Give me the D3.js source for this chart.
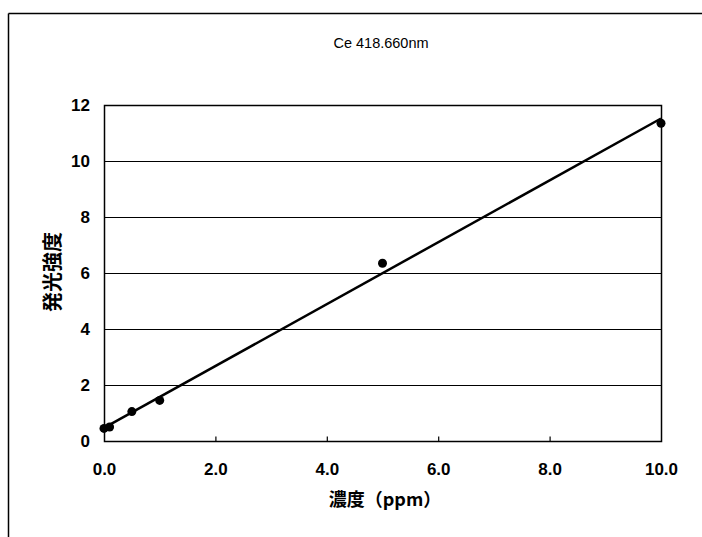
<!DOCTYPE html>
<html><head><meta charset="utf-8">
<script src="https://cdn.jsdelivr.net/npm/d3@7"></script>
<style>
body{margin:0;background:#fff;}
text{font-family:"Liberation Sans",Arial,sans-serif;fill:#000;}
</style></head>
<body>
<svg id="c" width="702" height="537"></svg>
<script>
const title = "Ce 418.660nm";
const xLabel = "濃度（ppm）";
const yLabel = "発光強度";
const concentrations = [0, 0.1, 0.5, 1.0, 5.0, 10.0];
const intensities = [0.45, 0.5, 1.05, 1.45, 6.35, 11.35];
const xTicks = [0, 2, 4, 6, 8, 10];
const yTicks = [0, 2, 4, 6, 8, 10, 12];

const svg = d3.select("#c");
const L = 104, R = 661, T = 105, B = 441;
const x = d3.scaleLinear().domain([0, 10]).range([L, R]);
const y = d3.scaleLinear().domain([0, 12]).range([B, T]);

// outer frame (top and left visible)
svg.append("line").attr("x1", 8.5).attr("x2", 702).attr("y1", 13.5).attr("y2", 13.5).attr("stroke", "#000").attr("stroke-width", 1.5);
svg.append("line").attr("x1", 8.5).attr("x2", 8.5).attr("y1", 13.5).attr("y2", 537).attr("stroke", "#000").attr("stroke-width", 1.5);

// title
svg.append("text").attr("x", 381).attr("y", 48).attr("text-anchor", "middle").attr("font-size", 14.5).text(title);

// gridlines
svg.append("g").selectAll("line").data(yTicks.filter(d => d > 0 && d < 12)).join("line")
  .attr("x1", L).attr("x2", R).attr("y1", d => Math.round(y(d)) + 0.5).attr("y2", d => Math.round(y(d)) + 0.5)
  .attr("stroke", "#000").attr("stroke-width", 1);

// plot frame
svg.append("rect").attr("x", L + 0.5).attr("y", T + 0.5).attr("width", R - L).attr("height", B - T)
  .attr("fill", "none").attr("stroke", "#000").attr("stroke-width", 1.5);

// x axis
const xAxis = d3.axisBottom(x).tickValues(xTicks).tickSize(-5).tickPadding(21).tickFormat(d3.format(".1f"));
const gx = svg.append("g").attr("transform", `translate(0,${B + 0.5})`).call(xAxis);
gx.select(".domain").remove();
gx.selectAll(".tick line").attr("stroke", "#000").attr("stroke-width", 1.2).filter(d => d === 0 || d === 10).remove();
gx.selectAll(".tick text").attr("font-size", 17).attr("font-weight", "bold").attr("dy", "0.71em")
  .style("font-family", "'Liberation Sans',Arial,sans-serif");

// y axis
const yAxis = d3.axisLeft(y).tickValues(yTicks).tickSize(0).tickPadding(14).tickFormat(d3.format("d"));
const gy = svg.append("g").attr("transform", `translate(${L},0)`).call(yAxis);
gy.select(".domain").remove();
gy.selectAll(".tick text").attr("font-size", 17).attr("font-weight", "bold")
  .style("font-family", "'Liberation Sans',Arial,sans-serif");

// axis titles
svg.append("text").attr("x", 385).attr("y", 506).attr("text-anchor", "middle")
  .attr("font-size", 18).attr("font-weight", "bold").style("font-family", "'Noto Sans CJK JP',sans-serif").text(xLabel);
svg.append("text").attr("transform", "translate(60,272) rotate(-90)").attr("text-anchor", "middle")
  .attr("font-size", 20).attr("font-weight", "bold").style("font-family", "'Noto Sans CJK JP',sans-serif").text(yLabel);

// least-squares trendline from the data
const n = concentrations.length;
const mx = d3.mean(concentrations), my = d3.mean(intensities);
let sxy = 0, sxx = 0;
for (let i = 0; i < n; i++) { sxy += (concentrations[i] - mx) * (intensities[i] - my); sxx += (concentrations[i] - mx) ** 2; }
const slope = sxy / sxx, icpt = my - slope * mx;
const xs = d3.extent(concentrations);
svg.append("path").datum(xs)
  .attr("d", d3.line().x(d => x(d)).y(d => y(icpt + slope * d)))
  .attr("stroke", "#000").attr("stroke-width", 2.5).attr("fill", "none");

// points
svg.append("g").selectAll("circle").data(concentrations).join("circle")
  .attr("cx", d => x(d)).attr("cy", (d, i) => y(intensities[i])).attr("r", 4.5).attr("fill", "#000");
</script>
</body></html>
